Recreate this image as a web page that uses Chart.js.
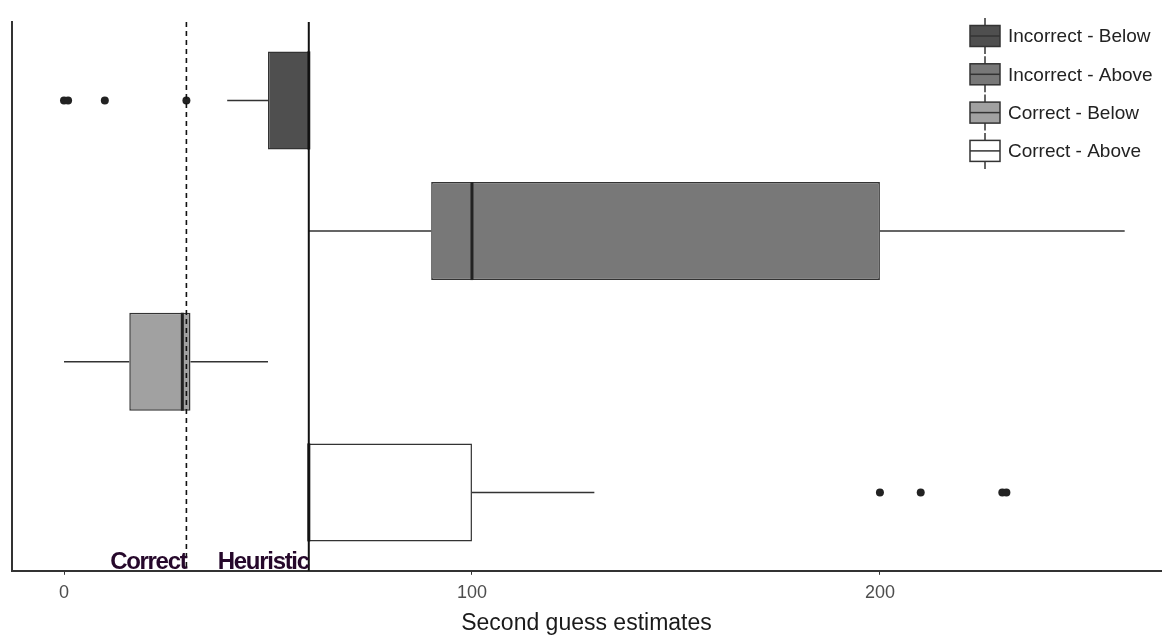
<!DOCTYPE html>
<html>
<head>
<meta charset="utf-8">
<script src="https://cdn.jsdelivr.net/npm/chart.js@4.4.1/dist/chart.umd.min.js"></script>
<style>
  html, body { margin: 0; padding: 0; background: #fff; }
  #wrap { width: 1165px; height: 636px; }
</style>
</head>
<body>
<div id="wrap"><canvas id="myChart" width="1165" height="636"></canvas></div>
<script>
// data
const groups = ['Incorrect - Below', 'Incorrect - Above', 'Correct - Below', 'Correct - Above'];
const lowerWhisker = [40, 60, 0, 60];
const q1 = [50, 90, 16, 60];
const median = [60, 100, 29, 60];
const q3 = [60, 200, 31, 100];
const upperWhisker = [60, 260, 50, 130];
const outliers = [[0, 1, 10, 30], [], [], [200, 210, 230, 231]];
const xTicks = [0, 100, 200];
const refValues = [30, 60];
const refLabels = ['Correct', 'Heuristic'];

const fills = ['#4f4f4f', '#787878', '#a1a1a1', '#ffffff'];
const font = "'Liberation Sans', Arial, sans-serif";

let datasets = groups.map((g, i) => ({
    type: 'bar',
    label: g,
    indexAxis: 'y',
    data: [{ x: [q1[i], q3[i]], y: i + 1 }],
    backgroundColor: fills[i],
    borderColor: '#333',
    borderWidth: 1.5,
    borderSkipped: false,
    grouped: false,
    categoryPercentage: 1,
    barPercentage: 0.75,
    order: 2
}));

let outlierPoints = [];
outliers.forEach((list, i) => {
    list.forEach((v) => outlierPoints.push({ x: v, y: i + 1 }));
});
datasets.push({
    type: 'scatter',
    label: 'outliers',
    indexAxis: 'x',
    data: outlierPoints,
    pointRadius: 4,
    backgroundColor: '#222',
    borderWidth: 0,
    order: 1
});

const boxParts = {
    id: 'boxParts',
    beforeDatasetsDraw(chart) {
        const { ctx, scales: { x, y } } = chart;
        ctx.save();
        ctx.strokeStyle = '#333';
        ctx.lineWidth = 1.5;
        groups.forEach((g, i) => {
            let py = y.getPixelForValue(i + 1);
            ctx.beginPath();
            ctx.moveTo(x.getPixelForValue(lowerWhisker[i]), py);
            ctx.lineTo(x.getPixelForValue(q1[i]), py);
            ctx.moveTo(x.getPixelForValue(q3[i]), py);
            ctx.lineTo(x.getPixelForValue(upperWhisker[i]), py);
            ctx.stroke();
        });
        ctx.restore();
    },
    afterDatasetsDraw(chart) {
        const { ctx, chartArea, scales: { x, y } } = chart;
        ctx.save();

        // medians
        ctx.strokeStyle = '#222';
        ctx.lineWidth = 3;
        groups.forEach((g, i) => {
            let bar = chart.getDatasetMeta(i).data[0];
            let px = x.getPixelForValue(median[i]);
            ctx.beginPath();
            ctx.moveTo(px, bar.y - bar.height / 2);
            ctx.lineTo(px, bar.y + bar.height / 2);
            ctx.stroke();
        });

        // reference lines
        ctx.strokeStyle = '#111';
        ctx.lineWidth = 1.6;
        ctx.setLineDash([5, 4]);
        let px = x.getPixelForValue(refValues[0]);
        ctx.beginPath();
        ctx.moveTo(px, chartArea.top);
        ctx.lineTo(px, chartArea.bottom);
        ctx.stroke();
        ctx.setLineDash([]);
        ctx.lineWidth = 2;
        px = x.getPixelForValue(refValues[1]);
        ctx.beginPath();
        ctx.moveTo(px, chartArea.top);
        ctx.lineTo(px, chartArea.bottom);
        ctx.stroke();

        // labels of the reference lines
        ctx.fillStyle = '#26082b';
        ctx.font = 'bold 24px ' + font;
        ctx.letterSpacing = '-1.3px';
        ctx.textAlign = 'right';
        ctx.textBaseline = 'alphabetic';
        refValues.forEach((v, i) => {
            ctx.fillText(refLabels[i], x.getPixelForValue(v), chartArea.bottom - 2);
        });
        ctx.letterSpacing = '0px';

        // legend
        let lx = 970, ly = 36, step = 38.3;
        ctx.font = '19px ' + font;
        ctx.textAlign = 'left';
        ctx.textBaseline = 'middle';
        groups.forEach((g, i) => {
            let cy = ly + i * step;
            ctx.strokeStyle = '#333';
            ctx.lineWidth = 1.5;
            ctx.beginPath();
            ctx.moveTo(lx + 15, cy - 18);
            ctx.lineTo(lx + 15, cy + 18);
            ctx.stroke();
            ctx.fillStyle = fills[i];
            ctx.fillRect(lx, cy - 10.5, 30, 21);
            ctx.strokeRect(lx, cy - 10.5, 30, 21);
            ctx.beginPath();
            ctx.moveTo(lx, cy);
            ctx.lineTo(lx + 30, cy);
            ctx.stroke();
            ctx.fillStyle = '#222';
            ctx.fillText(g, lx + 38, cy + 1);
        });
        ctx.restore();
    }
};

const ctx = document.getElementById('myChart').getContext('2d');
const chart = new Chart(ctx, {
    type: 'bar',
    data: { datasets: datasets },
    options: {
        responsive: false,
        animation: false,
        events: [],
        indexAxis: 'y',
        layout: { padding: { left: 12, top: 22, right: 0, bottom: -1 } },
        plugins: {
            legend: { display: false },
            tooltip: { enabled: false }
        },
        scales: {
            x: {
                type: 'linear',
                min: -12.75,
                max: 268.9,
                afterBuildTicks: (scale) => {
                    scale.ticks = xTicks.map((v) => ({ value: v }));
                },
                ticks: {
                    color: '#4d4d4d',
                    font: { family: font, size: 18 },
                    padding: 7,
                    maxRotation: 0
                },
                grid: {
                    display: true,
                    drawOnChartArea: false,
                    drawTicks: true,
                    tickLength: 4,
                    tickColor: '#333',
                    tickWidth: 1
                },
                border: { display: true, color: '#333', width: 2 },
                title: {
                    display: true,
                    text: 'Second guess estimates',
                    color: '#1a1a1a',
                    font: { family: font, size: 23 },
                    padding: { top: -1, bottom: 0 }
                }
            },
            y: {
                type: 'linear',
                min: 0.4,
                max: 4.6,
                reverse: true,
                offset: false,
                afterBuildTicks: (scale) => {
                    scale.ticks = groups.map((g, i) => ({ value: i + 1 }));
                },
                ticks: { display: false },
                grid: { display: false, drawTicks: false, offset: false },
                border: { display: true, color: '#333', width: 2 }
            }
        }
    },
    plugins: [boxParts]
});
</script>
</body>
</html>
